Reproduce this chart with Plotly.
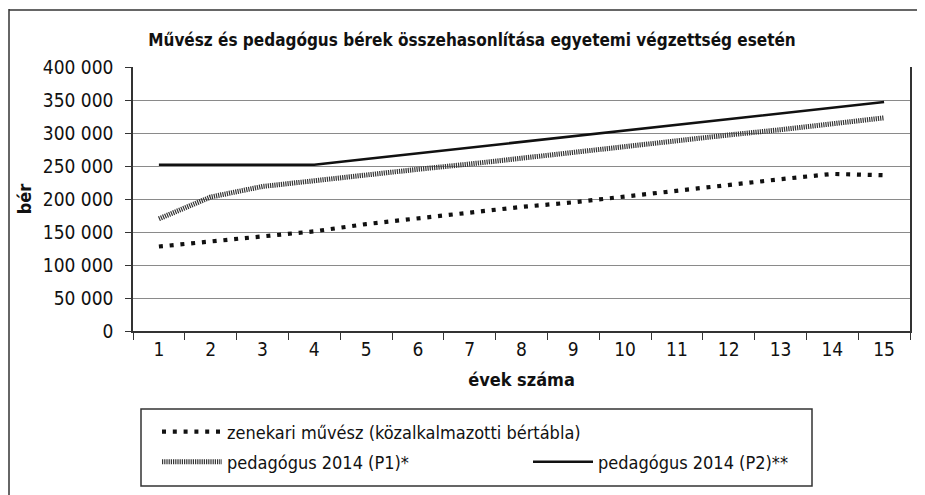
import plotly.graph_objects as go

years = [str(i) for i in range(1, 16)]
zenekari = [128000, 136000, 144000, 151000, 162000, 171000, 180000, 188000,
            195000, 204000, 213000, 222000, 230000, 238000, 236000]
p1 = [170000, 203000, 219000, 228000, 236000, 245000, 253000, 262000,
      271000, 280000, 288000, 297000, 305000, 314000, 323000]
p2 = [252000, 252000, 252000, 252000, 260600, 269300, 278000, 286500,
      295000, 304000, 312500, 321000, 330000, 338500, 347000]

names = ["zenekari művész (közalkalmazotti bértábla)",
         "pedagógus 2014 (P1)*",
         "pedagógus 2014 (P2)**"]
title_text = "Művész és pedagógus bérek összehasonlítása egyetemi végzettség esetén"
y_ticks = [0, 50000, 100000, 150000, 200000, 250000, 300000, 350000, 400000]

FONT = "DejaVu Sans Condensed, Liberation Sans Narrow, sans-serif"

fig = go.Figure()
fig.add_trace(go.Scatter(x=years, y=zenekari, mode="lines", name=names[0],
                         line=dict(color="#111111", width=4.2, dash="4px,6.8px"),
                         legend="legend"))
fig.add_trace(go.Scatter(x=years, y=p1, mode="lines", name=names[1],
                         line=dict(color="#333333", width=5, dash="1.2px,1px"),
                         legend="legend2"))
fig.add_trace(go.Scatter(x=years, y=p2, mode="lines", name=names[2],
                         line=dict(color="#111111", width=2.5),
                         legend="legend2"))

# page body adds an 8px offset; positions below are given in screen pixels
OFF = 8
W, H = 925 - OFF, 495 - OFF
PX_L, PX_R, PX_T, PX_B = 133, 910, 67, 331
L = PX_L - OFF
T = PX_T - OFF
R = W - (PX_R - OFF)
B = H - (PX_B - OFF)
pw = PX_R - PX_L
ph = PX_B - PX_T

def px2x(px):
    return (px - PX_L) / pw

def px2y(py):
    return (PX_B - py) / ph

fig.update_layout(
    width=W, height=H,
    margin=dict(l=L, r=R, t=T, b=B, autoexpand=False),
    paper_bgcolor="white", plot_bgcolor="white",
    separators=". ",
    font=dict(family=FONT, size=19, color="#111111"),
    title=dict(text="<b>" + title_text + "</b>", x=(472 - OFF) / W, xref="container",
               xanchor="center", y=1 - (40 - OFF) / H, yref="container",
               yanchor="middle",
               font=dict(family=FONT, size=17, color="#111111")),
    xaxis=dict(type="category", range=[-0.5, 14.5], tickson="boundaries",
               ticks="outside", ticklen=7, tickcolor="#333", showgrid=False,
               showline=True, linecolor="#333", linewidth=1.5, automargin=False,
               tickfont=dict(size=19),
               title=dict(text="<b>évek száma</b>", font=dict(size=18), standoff=15)),
    yaxis=dict(range=[0, 400000], tickvals=y_ticks, tickformat=",d", ticks="outside",
               ticklen=6, tickcolor="#333", showgrid=True, gridcolor="#8a8a8a",
               gridwidth=1, showline=True, linecolor="#333", linewidth=1.5,
               mirror=True, zeroline=False, tickfont=dict(size=19),
               ticklabelstandoff=8, automargin=False,
               title=dict(text="<b>bér</b>", font=dict(size=18), standoff=6)),
    legend=dict(x=px2x(157), y=px2y(432), xanchor="left", yanchor="middle",
                orientation="v", bgcolor="rgba(0,0,0,0)", borderwidth=0,
                font=dict(size=18), itemwidth=60, tracegroupgap=0),
    legend2=dict(x=px2x(157), y=px2y(462), xanchor="left", yanchor="middle",
                 orientation="h", bgcolor="rgba(0,0,0,0)", borderwidth=0,
                 font=dict(size=18), itemwidth=60, entrywidth=296,
                 entrywidthmode="pixels"),
    shapes=[
        dict(type="rect", xref="paper", yref="paper",
             x0=px2x(141), x1=px2x(812), y0=px2y(486), y1=px2y(409),
             line=dict(color="#333", width=1.5), fillcolor="rgba(0,0,0,0)"),
        dict(type="line", xref="paper", yref="paper",
             x0=px2x(9), x1=px2x(9), y0=px2y(9), y1=px2y(520),
             line=dict(color="#333", width=1.5)),
        dict(type="line", xref="paper", yref="paper",
             x0=px2x(9), x1=px2x(940), y0=px2y(10), y1=px2y(10),
             line=dict(color="#333", width=1.5)),
    ],
    showlegend=True,
)

fig.write_html("out.html")
